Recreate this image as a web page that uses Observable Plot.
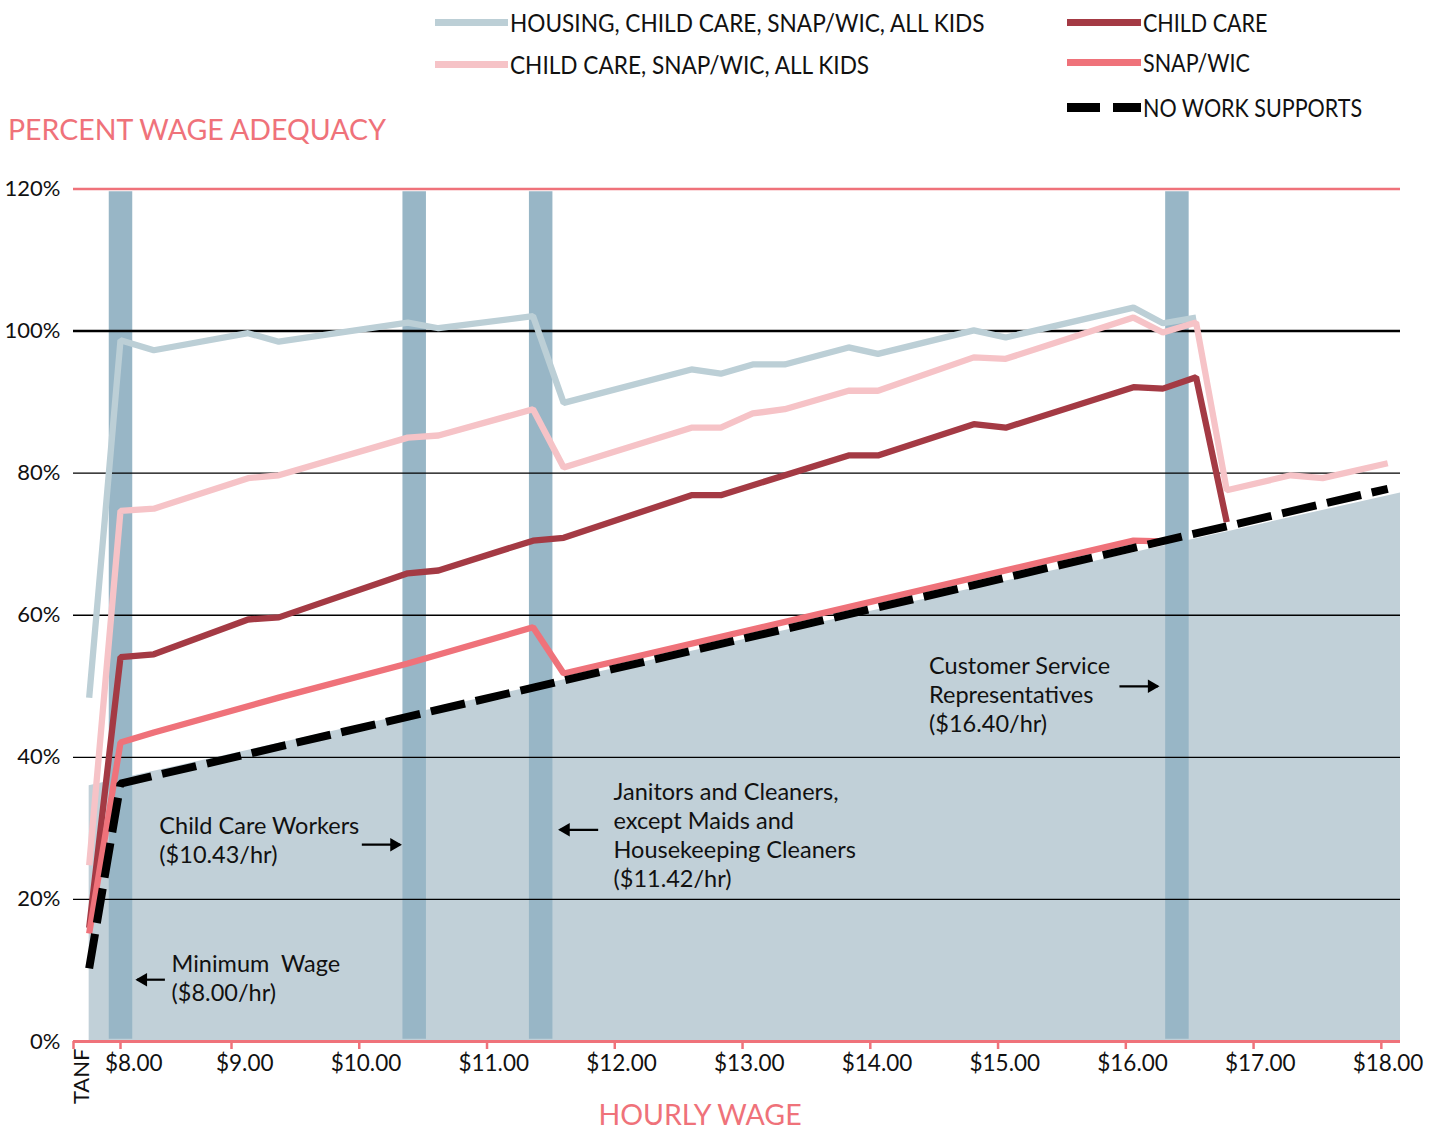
<!DOCTYPE html>
<html>
<head>
<meta charset="utf-8">
<script src="https://cdn.jsdelivr.net/npm/d3@7"></script>
<script src="https://cdn.jsdelivr.net/npm/@observablehq/plot@0.6"></script>
<style>
  body { margin: 0; background: #fff; }
  #wrap { position: relative; width: 1429px; height: 1131px; font-family: Lato, "Open Sans", sans-serif; overflow: hidden; }
  #chart { position: absolute; left: 0; top: 0; }
  .abs { position: absolute; white-space: pre; line-height: 1.05; }
  .sw { position: absolute; }
  .lt { position: absolute; font-size: 25px; color: #111; white-space: pre; line-height: 1; transform-origin: left center; }
</style>
</head>
<body>
<div id="wrap">
  <div id="chart"></div>
</div>
<script>
// ---------------- data ----------------
// x positions (hourly wage); the first category is TANF
const wageSteps = [7.75, 8.00, 8.30, 9.13, 9.37, 10.38, 10.62, 11.36, 11.60, 12.60, 12.83, 13.08,
                   13.33, 13.83, 14.06, 14.81, 15.06, 16.06, 16.29, 16.55, 16.79, 17.29, 17.54, 18.05];

const housingChildCareSnapAllKids = [48.4, 98.7, 97.3, 99.7, 98.5, 101.2, 100.4, 102.1, 89.9, 94.6, 94.0, 95.3,
                                     95.3, 97.7, 96.8, 100.1, 99.1, 103.3, 101.1, 101.9, null, null, null, null];
const childCareSnapAllKids = [24.8, 74.7, 75.0, 79.3, 79.7, 85.0, 85.3, 89.0, 80.8, 86.4, 86.4, 88.4,
                              89.0, 91.6, 91.6, 96.3, 96.1, 101.9, 99.8, 101.2, 77.6, 79.7, 79.3, 81.4];
const childCare = [16.0, 54.1, 54.5, 59.4, 59.7, 65.9, 66.3, 70.5, 70.9, 76.9, 76.9, null,
                   null, 82.5, 82.5, 86.9, 86.4, 92.1, 91.9, 93.5, 73.1, null, null, null];
const snapWic = [15.2, 42.1, 43.5, null, 48.4, 53.2, null, 58.3, 51.8, null, null, null,
                 null, null, null, null, null, 70.5, 70.4, null, null, null, null, null];
const noWorkSupports = [10.3, 36.3, null, null, null, null, null, null, null, null, null, null,
                        null, null, null, null, null, null, null, null, null, null, null, 77.8];

// shaded wage band
const areaWages = [7.75, 18.15];
const areaValues = [36.0, 77.2];

// occupation wage markers
const barWages = [8.00, 10.43, 11.42, 16.40];

// axes
const yTicks = [0, 20, 40, 60, 80, 100, 120];
const tickWages = [7.625, 8, 9, 10, 11, 12, 13, 14, 15, 16, 17, 18];
const tickLabels = ["TANF", "$8.00", "$9.00", "$10.00", "$11.00", "$12.00", "$13.00", "$14.00", "$15.00", "$16.00", "$17.00", "$18.00"];

// annotations
const annoText = ["Child Care Workers\n($10.43/hr)",
                  "Janitors and Cleaners,\nexcept Maids and\nHousekeeping Cleaners\n($11.42/hr)",
                  "Customer Service\nRepresentatives\n($16.40/hr)",
                  "Minimum  Wage\n($8.00/hr)"];
const annoX = [8.35, 11.99, 14.46, 8.46];
const annoY = [32.1, 36.9, 54.7, 12.7];
const arrowX1 = [10.02, 11.87, 15.95, 8.40];
const arrowX2 = [10.32, 11.57, 16.25, 8.15];
const arrowY = [27.7, 29.8, 50.0, 8.7];

const seriesNames = ["HOUSING, CHILD CARE, SNAP/WIC, ALL KIDS", "CHILD CARE, SNAP/WIC, ALL KIDS", "CHILD CARE", "SNAP/WIC", "NO WORK SUPPORTS"];

// ---------------- styles ----------------
const C_LIGHTBLUE = "#BCCFD6", C_PINK = "#F6C3C7", C_DARKRED = "#A43A44", C_CORAL = "#EF727A", C_BLACK = "#000";
const C_AREA = "#C1D0D8", C_BAR = "#98B6C6";

const seriesValues = [housingChildCareSnapAllKids, childCareSnapAllKids, childCare, snapWic, noWorkSupports];
const seriesColors = [C_LIGHTBLUE, C_PINK, C_DARKRED, C_CORAL, C_BLACK];

function pts(values) {
  return wageSteps.map((w, i) => ({wage: w, pct: values[i]})).filter(d => d.pct != null);
}
const areaPts = areaWages.map((w, i) => ({wage: w, pct: areaValues[i]}));
const annos = annoText.map((t, i) => ({text: t, x: annoX[i], y: annoY[i]}));
const arrows = arrowX1.map((x1, i) => ({x1, x2: arrowX2[i], y: arrowY[i], right: arrowX2[i] > x1}));
const xTickData = tickWages.map((w, i) => ({wage: w, label: tickLabels[i]}));

const lineMarks = seriesValues.map((vals, i) => Plot.line(pts(vals), {
  x: "wage", y: "pct", stroke: seriesColors[i],
  strokeWidth: i === 4 ? 8 : 6.3,
  strokeDasharray: i === 4 ? "35,11" : null,
  strokeLinejoin: "miter", strokeLinecap: "butt"
}));

const chart = Plot.plot({
  width: 1429, height: 1131,
  marginTop: 188.5, marginBottom: 90, marginLeft: 73, marginRight: 29,
  style: {fontFamily: "Lato, 'Open Sans', sans-serif", fontSize: "22px", color: "#111", background: "transparent", overflow: "visible"},
  x: {type: "linear", domain: [7.625, 8, 9, 18.15], range: [73, 120, 231, 1400]},
  y: {domain: [0, 120]},
  marks: [
    Plot.areaY(areaPts, {x: "wage", y: "pct", fill: C_AREA}),
    Plot.ruleX(barWages, {y1: 0.3, y2: 119.6, stroke: C_BAR, strokeWidth: 23.5}),
    Plot.ruleY([20, 40, 60, 80], {stroke: "#000", strokeWidth: 1.3}),
    Plot.ruleY([100], {stroke: "#000", strokeWidth: 2.5}),
    Plot.ruleY([120], {stroke: C_CORAL, strokeWidth: 2.5}),
    ...lineMarks,
    Plot.ruleY([0], {stroke: C_CORAL, strokeWidth: 3}),
    Plot.axisX(tickWages, {tickSize: 8, tickFormat: () => "", stroke: C_CORAL, strokeWidth: 2.5, label: null}),
    Plot.text(xTickData.slice(1), {x: "wage", text: "label", frameAnchor: "bottom", dy: 29, dx: 42, textAnchor: "end", fontSize: 22.5, fill: "#111"}),
    Plot.text(xTickData.slice(0, 1), {x: "wage", text: "label", frameAnchor: "bottom", dy: 7, dx: 15, rotate: -90, textAnchor: "end", fontSize: 22, fill: "#111"}),
    Plot.axisY(yTicks, {tickSize: 0, tickPadding: 13, tickFormat: d => `${d}%`, fontSize: 22, label: null, fill: "#111"}),
    Plot.text(annos, {x: "x", y: "y", text: "text", textAnchor: "start", lineAnchor: "top", lineHeight: 1.24, fontSize: 23.5, fill: "#111"}),
    Plot.link(arrows, {x1: "x1", x2: "x2", y1: "y", y2: "y", stroke: "#000", strokeWidth: 2.2}),
    Plot.dot(arrows.filter(d => d.right), {x: "x2", y: "y", symbol: "triangle", rotate: 90, r: 5, fill: "#000", dx: -6}),
    Plot.dot(arrows.filter(d => !d.right), {x: "x2", y: "y", symbol: "triangle", rotate: -90, r: 5, fill: "#000", dx: 6})
  ]
});
document.getElementById("chart").appendChild(chart);

// ---------------- titles & legend (HTML) ----------------
const wrap = document.getElementById("wrap");
function addText(txt, left, centerY, size, color, anchor) {
  const d = document.createElement("div");
  d.className = "abs";
  d.textContent = txt;
  d.style.left = left + "px";
  d.style.top = centerY + "px";
  d.style.fontSize = size + "px";
  d.style.color = color;
  d.style.transform = anchor === "middle" ? "translate(-50%, -50%)" : "translateY(-50%)";
  wrap.appendChild(d);
}
addText("PERCENT WAGE ADEQUACY", 8, 130, 28.5, C_CORAL);
addText("HOURLY WAGE", 700, 1115, 28.5, C_CORAL, "middle");

const legendLayout = [
  {x: 435, y: 22, w: 73, sx: 0.905},
  {x: 435, y: 64, w: 73, sx: 0.905},
  {x: 1067, y: 22, w: 74, sx: 0.86},
  {x: 1067, y: 62, w: 74, sx: 0.86},
  {x: 1067, y: 107, w: 74, sx: 0.86}
];
seriesNames.forEach((name, i) => {
  const L = legendLayout[i];
  if (i === 4) {
    [[0, 33], [46, 28]].forEach(([o, w]) => {
      const s = document.createElement("div");
      s.className = "sw";
      s.style.cssText = `left:${L.x + o}px;top:${L.y - 4.5}px;width:${w}px;height:9px;background:${C_BLACK}`;
      wrap.appendChild(s);
    });
  } else {
    const s = document.createElement("div");
    s.className = "sw";
    s.style.cssText = `left:${L.x}px;top:${L.y - 3.5}px;width:${L.w}px;height:7px;background:${seriesColors[i]}`;
    wrap.appendChild(s);
  }
  const t = document.createElement("div");
  t.className = "lt";
  t.textContent = name;
  t.style.left = (L.x + L.w + 2) + "px";
  t.style.top = L.y + "px";
  t.style.transform = `translateY(-50%) scaleX(${L.sx})`;
  wrap.appendChild(t);
});
</script>
</body>
</html>
